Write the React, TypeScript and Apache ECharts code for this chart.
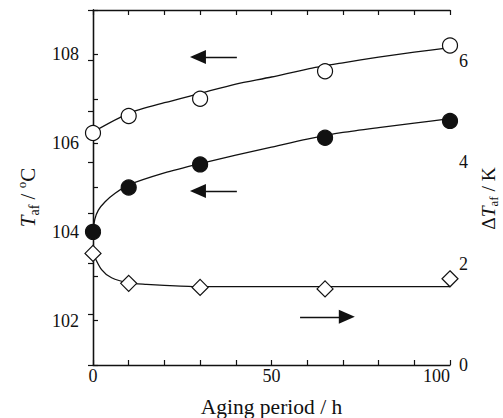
import React, { useEffect, useRef } from "react";
import * as echarts from "echarts";

// Measured data (Aging period / h)
const agingHours = [0, 10, 30, 65, 100];
const tafOpen = [106.23, 106.61, 107.0, 107.62, 108.2];
const tafFilled = [104.0, 105.0, 105.52, 106.12, 106.5];
const deltaTaf = [2.2, 1.61, 1.53, 1.5, 1.7];

// Fitted curves: [hours, value]
const fitOpen: [number, number][] = [
  [0, 106.25], [10, 106.67], [20, 106.91], [30, 107.12], [40, 107.33],
  [50, 107.49], [60, 107.67], [70, 107.81], [80, 107.94], [90, 108.05], [100, 108.15],
];
const fitFilled: [number, number][] = [
  [0, 104.0], [0.5, 104.28], [1.5, 104.49], [3.4, 104.68], [6.2, 104.87],
  [10, 105.06], [20, 105.33], [30, 105.54], [40, 105.73], [50, 105.91],
  [60, 106.09], [70, 106.24], [80, 106.35], [90, 106.45], [100, 106.55],
];
const fitDelta: [number, number][] = [
  [0, 2.2], [2.4, 1.88], [5.2, 1.72], [10, 1.62], [15, 1.59], [20, 1.57],
  [30, 1.545], [50, 1.545], [70, 1.545], [100, 1.545],
];

// Arrows: [tailX, headX, y]
const arrowOpen = [40.3, 29.4, 107.94];
const arrowFilled = [40.3, 29.4, 104.92];
const arrowDelta = [58.0, 71.1, 0.95];

const FONT = "'Liberation Serif', 'DejaVu Serif', serif";
const INK = "#111";

function arrowLine(a: number[]) {
  return {
    silent: true,
    symbol: ["none", "triangle"],
    symbolSize: [14, 16],
    lineStyle: { color: INK, width: 1.3, type: "solid" },
    label: { show: false },
    emphasis: { disabled: true },
    data: [[{ coord: [a[0], a[2]] }, { coord: [a[1], a[2]] }]],
  };
}

function makeRich(main: number, small: number, lh: number) {
  return {
    n: { fontSize: main, fontFamily: FONT, color: INK, lineHeight: lh },
    i: { fontSize: main, fontFamily: FONT, color: INK, fontStyle: "italic", lineHeight: lh },
    sub: { fontSize: small, fontFamily: FONT, color: INK, verticalAlign: "bottom", lineHeight: small },
    sup: { fontSize: small - 1, fontFamily: FONT, color: INK, verticalAlign: "top", lineHeight: small - 1 },
  };
}

export default function App() {
  const ref = useRef<HTMLDivElement>(null);
  useEffect(() => {
    if (!ref.current) return;
    const chart = echarts.init(ref.current, null, { renderer: "svg" });
    const axisLine = { show: true, lineStyle: { color: INK, width: 1.3 } };
    const axisTick = { show: true, inside: true, length: 5, lineStyle: { color: INK, width: 1.2 } };
    const fitStyle = {
      type: "line", smooth: 0.25, showSymbol: false, silent: true, z: 1,
      lineStyle: { color: INK, width: 1.3 },
    };
    chart.setOption({
      animation: false,
      grid: { left: 93, right: 53, top: 10, bottom: 53, containLabel: false, outerBoundsMode: "none" },
      xAxis: [
        {
          type: "value", min: 0, max: 100, interval: 10, position: "bottom",
          axisLine, axisTick, splitLine: { show: false },
          axisLabel: {
            color: INK, fontSize: 18, fontFamily: FONT, margin: 2, alignMaxLabel: "right",
            formatter: (v: number) => (v % 50 === 0 ? String(v) : ""),
          },
          name: "Aging period / h", nameLocation: "middle", nameGap: 31,
          nameTextStyle: { color: INK, fontSize: 21.5, fontFamily: FONT },
        },
        {
          type: "value", min: 0, max: 100, interval: 10, position: "top",
          axisLine, axisTick, splitLine: { show: false }, axisLabel: { show: false },
        },
      ],
      yAxis: [
        {
          type: "value", min: 101, max: 109, interval: 1, position: "left",
          axisLine, axisTick, splitLine: { show: false },
          axisLabel: {
            color: INK, fontSize: 18, fontFamily: FONT, margin: 14,
            formatter: (v: number) => (v % 2 === 0 ? String(v) : ""),
          },
          name: "{i|T}{sub|af}{n| / }{sup|o}{n|C}", nameLocation: "middle", nameRotate: 90, nameGap: 46,
          nameTextStyle: { rich: makeRich(21, 14, 26), padding: [0, 20, 0, 0] },
        },
        {
          type: "value", min: 0, max: 7, interval: 1, position: "right",
          axisLine, axisTick, splitLine: { show: false },
          axisLabel: {
            color: INK, fontSize: 18, fontFamily: FONT, margin: 9,
            formatter: (v: number) => (v % 2 === 0 ? String(v) : ""),
          },
          name: "{n|Δ}{i|T}{sub|af}{n| / K}", nameLocation: "middle", nameRotate: 90, nameGap: 27,
          nameTextStyle: { rich: makeRich(19.5, 13, 23), padding: [0, 22, 0, 0] },
        },
      ],
      series: [
        { ...fitStyle, data: fitOpen },
        { ...fitStyle, data: fitFilled },
        { ...fitStyle, yAxisIndex: 1, data: fitDelta },
        {
          type: "scatter", data: agingHours.map((x, k) => [x, tafOpen[k]]),
          symbol: "circle", symbolSize: 15, z: 3,
          itemStyle: { color: "#fff", borderColor: INK, borderWidth: 1.2, opacity: 1 },
          markLine: arrowLine(arrowOpen),
        },
        {
          type: "scatter", data: agingHours.map((x, k) => [x, tafFilled[k]]),
          symbol: "circle", symbolSize: 15, z: 3,
          itemStyle: { color: INK, borderColor: INK, borderWidth: 1.2, opacity: 1 },
          markLine: arrowLine(arrowFilled),
        },
        {
          type: "scatter", yAxisIndex: 1, data: agingHours.map((x, k) => [x, deltaTaf[k]]),
          symbol: "diamond", symbolSize: 16, z: 3,
          itemStyle: { color: "#fff", borderColor: INK, borderWidth: 1.2, opacity: 1 },
          markLine: arrowLine(arrowDelta),
        },
      ],
    });
    return () => chart.dispose();
  }, []);
  return <div ref={ref} style={{ width: 503, height: 418, position: "absolute", left: 0, top: 0 }} />;
}
